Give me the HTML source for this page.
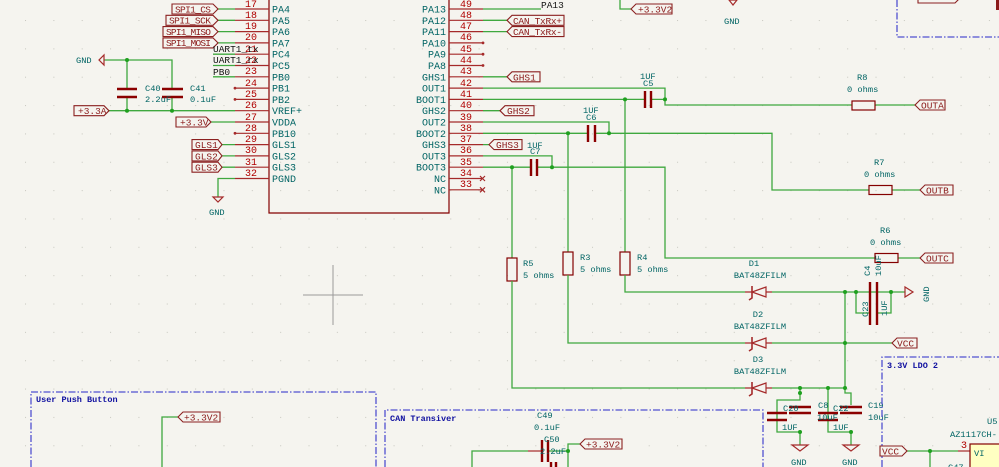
<!DOCTYPE html>
<html><head><meta charset="utf-8"><style>
html,body{margin:0;padding:0;background:#f5f4ef;}
svg{display:block;font-family:"Liberation Mono",monospace;}
.w{stroke:#3fa83f;stroke-width:1.3;fill:none}
.p{stroke:#a52a2a;stroke-width:1.2;fill:none}
.b{stroke:#840000;stroke-width:1.2;fill:none}
.cp{stroke:#8b0000;stroke-width:2.4;fill:none}
.lb{stroke:#8b2020;stroke-width:1.1;fill:#f5f4ef}
.lt{fill:#8b1a1a;font-size:9.5px}
.pn{fill:#006464;font-size:10px}
.nm{fill:#b00000;font-size:10px}
.t{fill:#006464;font-size:8.7px}
.k{fill:#111;font-size:9.5px}
.j{fill:#1fa01f}
.bx{stroke:#5050d0;stroke-width:1.3;fill:none;stroke-dasharray:7,2,1.5,2}
.bt{fill:#1010a0;font-size:8.5px;font-weight:bold}
</style></head><body>
<svg width="999" height="467" viewBox="0 0 999 467" xmlns="http://www.w3.org/2000/svg">
<defs><pattern id="g" x="25" y="20" width="28.35" height="28.35" patternUnits="userSpaceOnUse"><circle cx="0.5" cy="0.5" r="0.6" fill="#c8c8c0"/></pattern></defs>
<rect width="999" height="467" fill="#f5f4ef"/>
<rect width="999" height="467" fill="url(#g)"/>

<!-- chip -->
<path class="b" d="M269,0 V213 H449 V0"/>
<g class="p">
<path d="M235,9H269M235,20.3H269M235,31.6H269M235,42.9H269M235,54.2H269M235,65.5H269M235,76.8H269M235,88.1H269M235,99.4H269M235,110.7H269M235,122H269M235,133.3H269M235,144.6H269M235,155.9H269M235,167.2H269M235,178.5H269"/>
<path d="M449,9H483M449,20.3H483M449,31.6H483M449,42.9H483M449,54.2H483M449,65.5H483M449,76.8H483M449,88.1H483M449,99.4H483M449,110.7H483M449,122H483M449,133.3H483M449,144.6H483M449,155.9H483M449,167.2H483M449,178.5H483M449,189.8H483"/>
<path d="M480,176l5,5m0,-5l-5,5M480,187.3l5,5m0,-5l-5,5"/>
</g>
<g fill="#a52a2a"><circle cx="235" cy="88.1" r="1.4"/><circle cx="235" cy="99.4" r="1.4"/><circle cx="235" cy="133.3" r="1.4"/><circle cx="483" cy="42.9" r="1.4"/><circle cx="483" cy="54.2" r="1.4"/><circle cx="483" cy="65.5" r="1.4"/></g>
<g class="nm" text-anchor="middle">
<text x="251" y="7">17</text><text x="251" y="18">18</text><text x="251" y="29">19</text><text x="251" y="40">20</text><text x="251" y="52">21</text><text x="251" y="63">22</text><text x="251" y="74">23</text><text x="251" y="86">24</text><text x="251" y="97">25</text><text x="251" y="108">26</text><text x="251" y="120">27</text><text x="251" y="131">28</text><text x="251" y="142">29</text><text x="251" y="153">30</text><text x="251" y="165">31</text><text x="251" y="176">32</text>
<text x="466" y="7">49</text><text x="466" y="18">48</text><text x="466" y="29">47</text><text x="466" y="40">46</text><text x="466" y="52">45</text><text x="466" y="63">44</text><text x="466" y="74">43</text><text x="466" y="86">42</text><text x="466" y="97">41</text><text x="466" y="108">40</text><text x="466" y="120">39</text><text x="466" y="131">38</text><text x="466" y="142">37</text><text x="466" y="153">36</text><text x="466" y="165">35</text><text x="466" y="176">34</text><text x="466" y="187">33</text>
</g>
<g class="pn">
<text x="272" y="12.5">PA4</text><text x="272" y="23.8">PA5</text><text x="272" y="35">PA6</text><text x="272" y="46.4">PA7</text><text x="272" y="57.7">PC4</text><text x="272" y="69">PC5</text><text x="272" y="80.3">PB0</text><text x="272" y="91.6">PB1</text><text x="272" y="102.9">PB2</text><text x="272" y="114.2">VREF+</text><text x="272" y="125.5">VDDA</text><text x="272" y="136.8">PB10</text><text x="272" y="148.1">GLS1</text><text x="272" y="159.4">GLS2</text><text x="272" y="170.7">GLS3</text><text x="272" y="182">PGND</text>
</g>
<g class="pn" text-anchor="end">
<text x="446" y="12.5">PA13</text><text x="446" y="23.8">PA12</text><text x="446" y="35">PA11</text><text x="446" y="46.4">PA10</text><text x="446" y="57.7">PA9</text><text x="446" y="69">PA8</text><text x="446" y="80.3">GHS1</text><text x="446" y="91.6">OUT1</text><text x="446" y="102.9">BOOT1</text><text x="446" y="114.2">GHS2</text><text x="446" y="125.5">OUT2</text><text x="446" y="136.8">BOOT2</text><text x="446" y="148.1">GHS3</text><text x="446" y="159.4">OUT3</text><text x="446" y="170.7">BOOT3</text><text x="446" y="182">NC</text><text x="446" y="193.3">NC</text>
</g>

<!-- left side wiring -->
<path class="w" d="M218,9H235M218,20.3H235M218,31.6H235M218,42.9H235M213,54.2H235M213,65.5H235M213,76.8H235M222,144.6H235M222,155.9H235M222,167.2H235M211,122H235M109,110.7H235M104,60H172V89M127,60V89M127,97V110.7M172,97V110.7M235,178.5H218V197"/>
<path class="lb" d="M172,4H213L218,9L213,14H172Z M166,15.3H213L218,20.3L213,25.3H166Z M163,26.6H213L218,31.6L213,36.6H163Z M163,37.9H213L218,42.9L213,47.9H163Z M74,105.7H104L109,110.7L104,115.7H74Z M176,117H206L211,122L206,127H176Z M192,139.6H218L222,144.6L218,149.6H192Z M192,150.9H218L222,155.9L218,160.9H192Z M192,162.2H218L222,167.2L218,172.2H192Z"/>
<g class="lt"><text x="175" y="12.3" textLength="36">SPI1_CS</text><text x="169" y="23.6" textLength="42">SPI1_SCK</text><text x="166" y="34.9" textLength="45">SPI1_MISO</text><text x="166" y="46.2" textLength="45">SPI1_MOSI</text><text x="78" y="114">+3.3A</text><text x="180" y="125.3">+3.3V</text><text x="195" y="148">GLS1</text><text x="195" y="159.3">GLS2</text><text x="195" y="170.6">GLS3</text></g>
<g class="k"><text x="213" y="52">UART1_tx</text><text x="213" y="63">UART1_rx</text><text x="213" y="75">PB0</text></g>
<path class="cp" d="M117,89H137M117,97H137M162,89H183M162,97H183"/>
<g class="j"><circle cx="127" cy="60" r="2"/><circle cx="127" cy="110.7" r="2"/><circle cx="172" cy="110.7" r="2"/></g>
<path class="p" d="M104,55V65L99,60Z M213,197H223L218,202Z"/>
<g class="t"><text x="76" y="63">GND</text><text x="145" y="91">C40</text><text x="145" y="102">2.2uF</text><text x="190" y="91">C41</text><text x="190" y="102">0.1uF</text><text x="209" y="215">GND</text></g>

<!-- right side -->
<path class="w" d="M483,9H541M483,20.3H507M483,31.6H507M483,76.8H507M483,110.7H500M483,144.6H489"/>
<text class="k" x="541" y="8">PA13</text>
<path class="lb" d="M507,20.3L512,15.3H564V25.3H512Z M507,31.6L512,26.6H564V36.6H512Z M507,76.8L512,71.8H540V81.8H512Z M500,110.7L505,105.7H534V115.7H505Z M489,144.6L494,139.6H522V149.6H494Z"/>
<g class="lt"><text x="513" y="23.8" textLength="49">CAN_TxRx+</text><text x="513" y="35.1" textLength="49">CAN_TxRx-</text><text x="513" y="80.3">GHS1</text><text x="507" y="114.2">GHS2</text><text x="496" y="148.1">GHS3</text></g>

<!-- top misc -->
<path class="w" d="M620,0V9H631"/>
<path class="lb" d="M631,9L636,4H672V14H636Z M918,-5H959V-1L955,3H918Z"/>
<text class="lt" x="638" y="12.5">+3.3V2</text>
<path class="p" d="M729,0H737L733,5Z"/>
<text class="t" x="724" y="24">GND</text>
<path class="bx" d="M897,0V37H999"/>
<rect x="996" y="0" width="3" height="10" fill="#8b1a1a"/>

<!-- bootstrap caps -->
<path class="w" d="M483,88.1H665V99.4M483,99.4H645M651,99.4H665V105H852M875,105H915"/>
<path class="w" d="M483,122H609V133.3M483,133.3H588M595,133.3H772V190H869M892,190H920"/>
<path class="w" d="M483,155.9H552V167.2M483,167.2H531M537,167.2H665V258H875M898,258H920"/>
<path class="cp" d="M645,91V108M651,91V108M588,125V142M595,125V142M531,159V176M537,159V176"/>
<path class="w" d="M625,99.4V252M568,133.3V252M512,167.2V258"/>
<g class="j"><circle cx="625" cy="99.4" r="2"/><circle cx="665" cy="99.4" r="2"/><circle cx="568" cy="133.3" r="2"/><circle cx="609" cy="133.3" r="2"/><circle cx="512" cy="167.2" r="2"/><circle cx="552" cy="167.2" r="2"/></g>
<g class="t"><text x="640" y="79">1UF</text><text x="643" y="86">C5</text><text x="583" y="113">1UF</text><text x="586" y="120">C6</text><text x="527" y="148">1UF</text><text x="530" y="154">C7</text>
<text x="857" y="80">R8</text><text x="847" y="92">0 ohms</text><text x="874" y="165">R7</text><text x="864" y="177">0 ohms</text><text x="880" y="233">R6</text><text x="870" y="245">0 ohms</text></g>
<rect x="852" y="101" width="23" height="9" class="b"/>
<rect x="869" y="185.5" width="23" height="9" class="b"/>
<rect x="875" y="253.5" width="23" height="9" class="b"/>
<path class="lb" d="M915,105L920,100H945V110H920Z M920,190L925,185H953V195H925Z M920,258L925,253H953V263H925Z"/>
<g class="lt"><text x="921" y="108.5">OUTA</text><text x="926" y="193.5">OUTB</text><text x="926" y="261.5">OUTC</text></g>

<!-- resistors -->
<rect x="507" y="258" width="10" height="23" class="b"/>
<rect x="563" y="252" width="10" height="23" class="b"/>
<rect x="620" y="252" width="10" height="23" class="b"/>
<g class="t"><text x="523" y="266">R5</text><text x="523" y="278">5 ohms</text><text x="580" y="260">R3</text><text x="580" y="272">5 ohms</text><text x="637" y="260">R4</text><text x="637" y="272">5 ohms</text></g>

<!-- diodes -->
<path class="w" d="M625,275V292H745M772,292H905M568,275V343H745M772,343H892M512,281V388H745M772,388H845M845,292V393H851V405M800,388V400H777V432H800V445M828,388V432H851V445M856,292V313H870M891,292V313H877"/>
<g class="p">
<path d="M745,292H772M745,343H772M745,388H772"/>
<path d="M766,287V297L752,292Z M766,338V348L752,343Z M766,383V393L752,388Z" fill="#f5f4ef"/>
<path d="M752,286V298l-3,2M752,337V349l-3,2M752,382V394l-3,2" stroke-width="1.6"/>
</g>
<g class="t" text-anchor="middle"><text x="754" y="266">D1</text><text x="760" y="278">BAT48ZFILM</text><text x="758" y="317">D2</text><text x="760" y="329">BAT48ZFILM</text><text x="758" y="362">D3</text><text x="760" y="374">BAT48ZFILM</text></g>
<path class="cp" d="M870,282V325M877,282V325"/>
<g class="j"><circle cx="845" cy="292" r="2"/><circle cx="856" cy="292" r="2"/><circle cx="891" cy="292" r="2"/><circle cx="845" cy="343" r="2"/><circle cx="845" cy="388" r="2"/><circle cx="828" cy="388" r="2"/><circle cx="800" cy="388" r="2"/><circle cx="800" cy="393" r="2"/><circle cx="800" cy="432" r="2"/><circle cx="851" cy="432" r="2"/></g>
<path class="p" d="M905,287V297L913,292Z"/>
<g class="t"><text transform="translate(929,302) rotate(-90)">GND</text><text transform="translate(870,276) rotate(-90)">C4</text><text transform="translate(881,276) rotate(-90)">10uF</text><text transform="translate(868,317) rotate(-90)">C23</text><text transform="translate(887,316) rotate(-90)">1UF</text></g>
<path class="lb" d="M892,343L897,338H917V348H897Z"/>
<text class="lt" x="897" y="346.5">VCC</text>

<!-- bottom caps -->
<path class="cp" d="M767,413H787M767,420H787M789,407H811M789,413H811M818,413H838M818,420H838M840,407H862M840,413H862"/>
<path class="p" d="M792,445H808L800,451Z M843,445H859L851,451Z"/>
<g class="t"><text x="783" y="411">C20</text><text x="782" y="430">1UF</text><text x="818" y="408">C8</text><text x="817" y="420">10uF</text><text x="833" y="411">C22</text><text x="833" y="430">1UF</text><text x="868" y="408">C19</text><text x="868" y="420">10uF</text><text x="791" y="465">GND</text><text x="842" y="465">GND</text></g>

<!-- LDO box -->
<path class="bx" d="M882,467V357H999"/>
<text class="bt" x="887" y="368">3.3V LDO 2</text>
<text class="t" x="987" y="424">U5</text>
<text class="t" x="950" y="437">AZ1117CH-</text>
<path class="w" d="M907,451H958M930,451V467"/>
<circle class="j" cx="930" cy="451" r="2"/>
<path class="p" d="M958,451H970"/>
<text class="nm" x="961" y="448" font-size="8">3</text>
<rect x="970" y="444" width="35" height="30" fill="#ffffc2" stroke="#840000" stroke-width="1.2"/>
<text class="t" x="974" y="456">VI</text>
<text class="t" x="948" y="470">C47</text>
<path class="lb" d="M880,446H902L907,451L902,456H880Z"/>
<text class="lt" x="882" y="454.5">VCC</text>

<!-- CAN box -->
<path class="bx" d="M385,467V410H763V467"/>
<text class="bt" x="390" y="421">CAN Transiver</text>
<path class="w" d="M472,467V451H528M548,451H568V444H580M568,451V467"/>
<path class="p" d="M528,451H542"/>
<path class="cp" d="M542,440V462M548,440V462M551,462V467M556,462V467"/>
<circle class="j" cx="568" cy="451" r="2"/>
<path class="lb" d="M580,444L585,439H622V449H585Z"/>
<text class="lt" x="586" y="447.5">+3.3V2</text>
<g class="t"><text x="537" y="418">C49</text><text x="534" y="430">0.1uF</text><text x="544" y="442">C50</text><text x="540" y="454">2.2uF</text></g>

<!-- user push button -->
<path class="bx" d="M31,467V392H376V467"/>
<text class="bt" x="36" y="402">User Push Button</text>
<path class="w" d="M162,467V417H178"/>
<path class="lb" d="M178,417L183,412H220V422H183Z"/>
<text class="lt" x="184" y="420.5">+3.3V2</text>

<!-- crosshair -->
<path d="M303,295H363M333,265V325" stroke="#9a9a9a" stroke-width="1"/>
</svg>
</body></html>
